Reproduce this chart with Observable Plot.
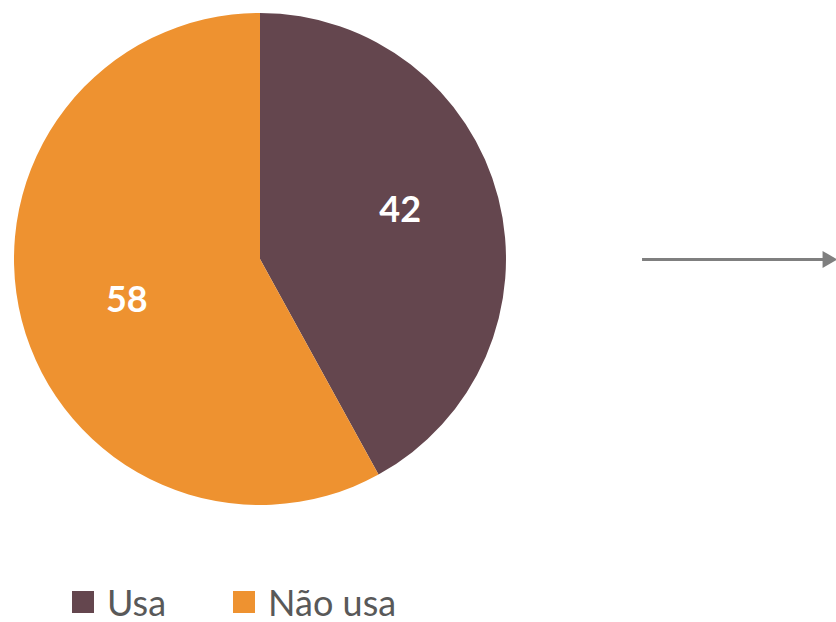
<!DOCTYPE html>
<html><head><meta charset="utf-8">
<script src="https://cdn.jsdelivr.net/npm/d3@7"></script>
<script src="https://cdn.jsdelivr.net/npm/@observablehq/plot@0.6"></script>
<style>
body{margin:0;background:#fff;font-family:Lato,sans-serif;}
#wrap{position:relative;width:836px;height:622px;}
#chart{position:absolute;left:0;top:0;}
#legend{position:absolute;left:72px;top:585px;line-height:30px;}
#legend .lg-swatch{margin-right:67px;line-height:30px;}
#legend .lg-swatch svg{margin-right:13px;}
</style></head><body><div id="wrap"><div id="chart"></div><div id="legend"></div></div>
<script>
const categories = ["Usa", "Não usa"];
const values = [42, 58];
const colors = ["#64464E", "#EE9230"];

const table = categories.map((c, i) => ({category: c, value: values[i]}));
const arcs = d3.pie().sort(null).value(d => d.value)(table);
const labelR = 0.585, labelTurn = -3.8 * Math.PI / 180;
const labels = arcs.map(a => {
  const m = (a.startAngle + a.endAngle) / 2 + labelTurn;
  return {text: String(a.data.value), x: labelR * Math.sin(m), y: labelR * Math.cos(m)};
});

// arrow annotation, in pie-radius units
const arrowFrom = 1.553, arrowTo = 2.29, arrowHead = 2.305;

const pieMark = (index, scales) => {
  const cx = scales.x(0), cy = scales.y(0), r = scales.x(1) - cx;
  const color = scales.color ?? (c => colors[categories.indexOf(c)]);
  const g = d3.create("svg:g").attr("transform", `translate(${cx},${cy})`);
  const arc = d3.arc().innerRadius(0).outerRadius(r);
  g.selectAll("path").data(arcs).join("path")
    .attr("d", arc)
    .attr("fill", d => color(d.data.category));
  return g.node();
};

const chart = Plot.plot({
  width: 836, height: 580, margin: 0,
  x: {domain: [-1, 1], range: [14, 506], axis: null},
  y: {domain: [-1, 1], range: [505, 13], axis: null},
  color: {domain: categories, range: colors},
  style: {background: "transparent", fontFamily: "Lato"},
  marks: [
    pieMark,
    Plot.text(labels, {x: "x", y: "y", text: "text", fill: "white", fontSize: 36, fontWeight: "bold", fontFamily: "Lato", dx: 3, dy: -4}),
    Plot.ruleY([0], {x1: arrowFrom, x2: arrowTo, stroke: "#7f7f7f", strokeWidth: 3}),
    Plot.dot([0], {x: arrowHead, y: 0, symbol: "triangle", r: 6.4, fill: "#7f7f7f", rotate: 90})
  ]
});
document.getElementById("chart").append(chart);

const legend = Plot.legend({
  color: {domain: categories, range: colors},
  swatchSize: 22,
  className: "lg",
  style: {fontFamily: "Lato", fontSize: "36px", color: "#595959", background: "transparent", lineHeight: "30px"}
});
document.getElementById("legend").append(legend);
</script>
</body></html>
